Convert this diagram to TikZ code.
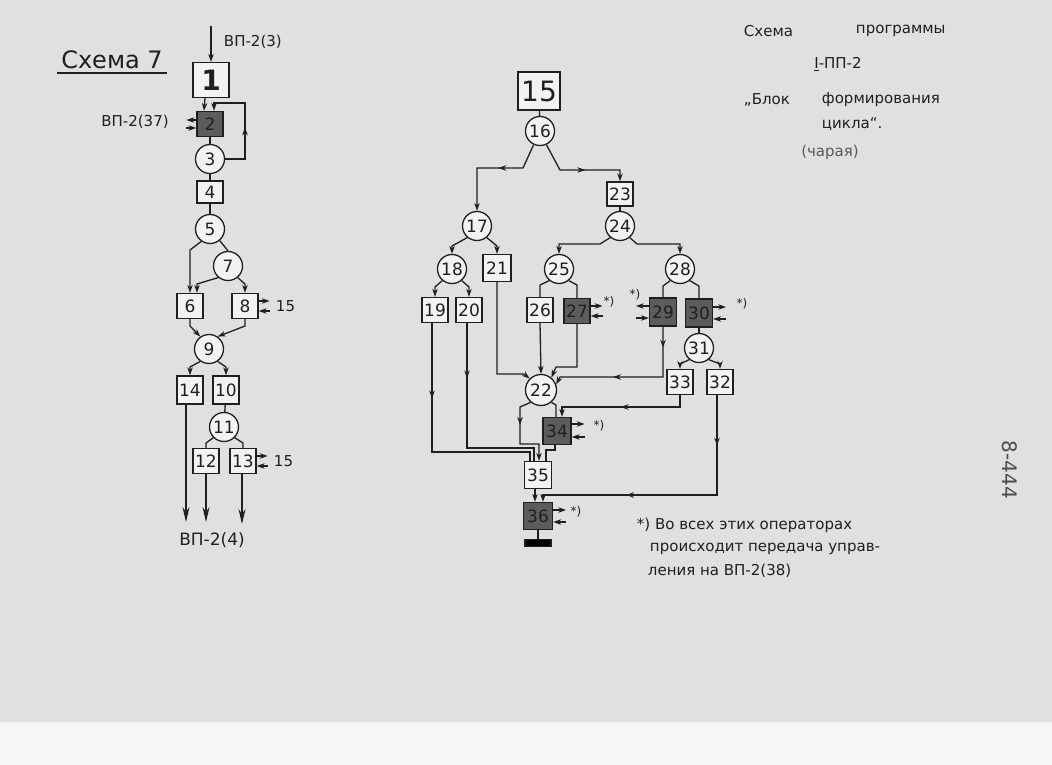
\documentclass[tikz,border=0pt]{standalone}
\usepackage{fontspec}
\setmainfont{DejaVu Sans}
\usetikzlibrary{arrows, arrows.meta, calc, decorations.markings}

\begin{document}
\begin{tikzpicture}[x=1pt, y=-1pt, line width=1.3pt, >={Stealth[length=8pt, width=5.5pt]}, color=black!88]

    \tikzset{
      op/.style={draw, fill=gray!10, minimum width=26pt, minimum height=25pt, inner sep=0pt, font=\fontsize{17}{17}\selectfont},
      opd/.style={op, fill=black!64},
      cnd/.style={draw, circle, fill=gray!10, minimum size=29pt, inner sep=0pt, font=\fontsize{17}{17}\selectfont},
      txt/.style={font=\fontsize{15}{15}\selectfont},
      midarr/.style={postaction={decorate}, decoration={markings, mark=at position #1 with {\arrow{>}}}},
      midarrs/.style 2 args={postaction={decorate}, decoration={markings, mark=at position #1 with {\arrow{>}}, mark=at position #2 with {\arrow{>}}}},
      bigarr/.style={-{Stealth[length=15pt, width=7pt]}},
    }

    % paper
    \fill[gray!24] (0,0) rectangle (1052,765);
    \fill[gray!7] (0,722) rectangle (1052,765);
    \useasboundingbox (0,0) rectangle (1052,765);

    % left scheme
    \node (title) at (112,60) {\fontsize{24}{24}\selectfont Схема 7};
    \draw (title.south west) -- (title.south east);

    \coordinate (in1) at (211,26);
    \node[op, minimum width=36pt, minimum height=35pt, font=\fontsize{28}{28}\selectfont\bfseries] (n1) at (211,80) {1};
    \draw[->, line width=2.2pt] (in1) -- (n1.north);
    \node[txt, anchor=west] (vp3) at (220,42) {ВП-2(3)};

    \node[opd] (n2) at (210,124) {2};
    \node[txt] (vp37) at (135,122) {ВП-2(37)};
    \draw[->] ([yshift=4pt]n2.west) -- ++(-10,0);
    \draw[<-] ([yshift=-4pt]n2.west) -- ++(-10,0);
    \node[cnd] (n3) at (210,159) {3};
    \node[op, minimum height=22pt] (n4) at (210,192) {4};
    \node[cnd] (n5) at (210,229) {5};
    \node[cnd] (n7) at (228,266) {7};
    \node[op] (n6) at (190,306) {6};
    \node[op] (n8) at (245,306) {8};
    \node[cnd] (n9) at (209,349) {9};
    \node[op, minimum height=28pt] (n14) at (190,390) {14};
    \node[op, minimum height=28pt] (n10) at (226,390) {10};
    \node[cnd] (n11) at (224,427) {11};
    \node[op] (n12) at (206,461) {12};
    \node[op] (n13) at (243,461) {13};

    \draw[->] ([xshift=-6pt]n1.south) -- ([xshift=-6pt]n2.north);
    \draw (n2) -- (n3);
    \draw[->, midarr=0.45] (n3.east) -- (245,159) -- (245,103) -- (214,103) -- ([xshift=4pt]n2.north);
    \draw (n3) -- (n4);
    \draw (n4) -- (n5);
    \draw[->] (n5.-125) -- (190,250) -- (n6.north);
    \draw (n5.-50) -- (n7.north);
    \draw[->] (n7.-130) -- (197,284) -- ([xshift=7pt]n6.north);
    \draw[->] (n7.-50) -- (245,284) -- (n8.north);
    \draw[->] ([yshift=5pt]n8.east) -- ++(11,0);
    \draw[<-] ([yshift=-5pt]n8.east) -- ++(11,0);
    \node[txt, anchor=west] (r8) at (272,306) {15};
    \draw[->] (n6.south) -- (190,326) -- (n9.125);
    \draw[->] (n8.south) -- (245,326) -- (n9.55);
    \draw[->] (n9.-125) -- (190,367) -- (n14.north);
    \draw[->] (n9.-55) -- (226,367) -- (n10.north);
    \draw (n10) -- (n11);
    \draw (n11.-135) -- (206,443) -- (n12.north);
    \draw (n11.-45) -- (243,443) -- (n13.north);
    \draw[->] ([yshift=5pt]n13.east) -- ++(11,0);
    \draw[<-] ([yshift=-5pt]n13.east) -- ++(11,0);
    \node[txt, anchor=west] (r13) at (270,461) {15};

    \coordinate (o14) at (186,522);
    \coordinate (o12) at (206,522);
    \coordinate (o13) at (242,524);
    \draw[bigarr] ([xshift=-4pt]n14.south) -- (o14);
    \draw[bigarr] (n12.south) -- (o12);
    \draw[bigarr] ([xshift=-1pt]n13.south) -- (o13);
    \node[font=\fontsize{17}{17}\selectfont] (vp4) at (212,540) {ВП-2(4)};

    % middle scheme
    \node[op, minimum width=42pt, minimum height=38pt, font=\fontsize{28}{28}\selectfont] (n15) at (539,91) {15};
    \node[cnd] (n16) at (540,131) {16};
    \node[cnd] (n17) at (477,226) {17};
    \node[op, minimum height=24pt] (n23) at (620,194) {23};
    \node[cnd] (n24) at (620,226) {24};
    \node[cnd] (n18) at (452,269) {18};
    \node[op, minimum width=28pt, minimum height=27pt] (n21) at (497,268) {21};
    \node[cnd] (n25) at (559,269) {25};
    \node[cnd] (n28) at (680,269) {28};
    \node[op] (n19) at (435,310) {19};
    \node[op] (n20) at (469,310) {20};
    \node[op] (n26) at (540,310) {26};
    \node[opd] (n27) at (577,311) {27};
    \node[opd, minimum width=27pt, minimum height=28pt] (n29) at (663,312) {29};
    \node[opd, minimum width=27pt, minimum height=28pt] (n30) at (699,313) {30};
    \node[cnd] (n31) at (699,348) {31};
    \node[op] (n33) at (680,382) {33};
    \node[op] (n32) at (720,382) {32};
    \node[cnd, minimum size=31pt] (n22) at (541,390) {22};
    \node[opd, minimum width=28pt, minimum height=27pt] (n34) at (557,431) {34};
    \node[op, minimum width=27pt, minimum height=27pt] (n35) at (538,475) {35};
    \node[opd, minimum width=29pt, minimum height=27pt] (n36) at (538,516) {36};
    \node[draw, fill=black, minimum width=26pt, minimum height=7pt, inner sep=0pt] (stop) at (538,543) {};

    \draw (n15) -- (n16);
    \draw[->, midarr=0.44] (n16.-115) -- (523,168) -- (477,168) -- (n17.north);
    \draw[->, midarr=0.54] (n16.-65) -- (560,170) -- (620,170) -- (n23.north);
    \draw (n23) -- (n24);
    \draw[->] (n17.-130) -- (452,246) -- (n18.north);
    \draw[->] (n17.-50) -- (497,246) -- (n21.north);
    \draw[->] (n24.-130) -- (600,244) -- (559,244) -- (n25.north);
    \draw[->] (n24.-50) -- (637,244) -- (680,244) -- (n28.north);
    \draw[->] (n18.-130) -- (435,287) -- (n19.north);
    \draw[->] (n18.-50) -- (469,287) -- (n20.north);
    \draw (n25.-130) -- (540,285) -- (n26.north);
    \draw (n25.-50) -- (577,285) -- (n27.north);
    \draw (n28.-130) -- (663,286) -- (n29.north);
    \draw (n28.-50) -- (699,286) -- (n30.north);
    \draw (n30) -- (n31);
    \draw[->] (n31.-130) -- (680,364) -- (n33.north);
    \draw[->] (n31.-50) -- (720,364) -- (n32.north);

    \draw[->] (n21.south) -- (497,374) -- (524,374) -- (n22.135);
    \draw[->] (n26.south) -- (n22.north);
    \draw[->] (n27.south) -- (577,367) -- (556,367) -- (n22.50);
    \draw[->, midarrs={0.13}{0.62}] (n29.south) -- (663,377) -- (560,377) -- (n22.20);
    \draw[->, midarr=0.51] (n33.south) -- (680,407) -- (562,407) -- ([xshift=5pt]n34.north);
    \draw (n22.-50) -- (556,405) -- ([xshift=-1pt]n34.north);
    \draw[->, midarr=0.35] (n22.-130) -- (520,407) -- (520,444) -- (539,444) -- ([xshift=1pt]n35.north);
    \draw[midarr=0.32] ([xshift=-3pt]n19.south) -- (432,452) -- (530,452) -- ([xshift=-8pt]n35.north);
    \draw[midarr=0.27] ([xshift=-2pt]n20.south) -- (467,448) -- (534,448) -- ([xshift=-4pt]n35.north);
    \draw ([xshift=-2pt]n34.south) -- (555,450) -- (546,450) -- ([xshift=8pt]n35.north);
    \draw[->] ([xshift=-3pt]n35.south) -- ([xshift=-3pt]n36.north);
    \draw[->, midarrs={0.18}{0.68}] ([xshift=-3pt]n32.south) -- (717,495) -- (543,495) -- ([xshift=5pt]n36.north);
    \draw (n36) -- (stop);

    % exits of the dark operators
    \draw[->] ([yshift=5pt]n27.east) -- ++(12,0);
    \draw[<-] ([yshift=-5pt]n27.east) -- ++(12,0);
    \node[font=\fontsize{12}{12}\selectfont] (s27) at (609,302) {*)};
    \draw[->] ([yshift=6pt]n29.west) -- ++(-13,0);
    \draw[<-] ([yshift=-6pt]n29.west) -- ++(-13,0);
    \node[font=\fontsize{12}{12}\selectfont] (s29) at (635,295) {*)};
    \draw[->] ([yshift=6pt]n30.east) -- ++(13,0);
    \draw[<-] ([yshift=-6pt]n30.east) -- ++(13,0);
    \node[font=\fontsize{12}{12}\selectfont] (s30) at (742,304) {*)};
    \draw[->] ([yshift=7pt]n34.east) -- ++(13,0);
    \draw[<-] ([yshift=-6pt]n34.east) -- ++(13,0);
    \node[font=\fontsize{12}{12}\selectfont] (s34) at (599,426) {*)};
    \draw[->] ([yshift=6pt]n36.east) -- ++(13,0);
    \draw[<-] ([yshift=-6pt]n36.east) -- ++(13,0);
    \node[font=\fontsize{12}{12}\selectfont] (s36) at (576,512) {*)};

    % heading
    \node[txt, anchor=west] (h1) at (740,31) {Схема};
    \node[txt, anchor=west] (h2) at (852,31) {программы};
    \node[txt] (h3) at (838,64) {\underline{I}-ПП-2};
    \node[txt, anchor=west] (h4) at (740,100) {„Блок};
    \node[txt, anchor=west] (h5) at (818,100) {формирования};
    \node[txt, anchor=west] (h6) at (818,124) {цикла“.};
    \node[txt, gray!70!black] (h7) at (830,152) {(чарая)};

    % footnote
    \node[txt, anchor=west] (f1) at (633,525) {*) Во всех этих операторах};
    \node[txt, anchor=west] (f2) at (646,549) {происходит передача управ-};
    \node[txt, anchor=west] (f3) at (644,571) {ления на ВП-2(38)};

    \node[font=\fontsize{20}{20}\selectfont, gray!60!black, rotate=-90] (inv) at (1010,470) {8-444};

\end{tikzpicture}
\end{document}
